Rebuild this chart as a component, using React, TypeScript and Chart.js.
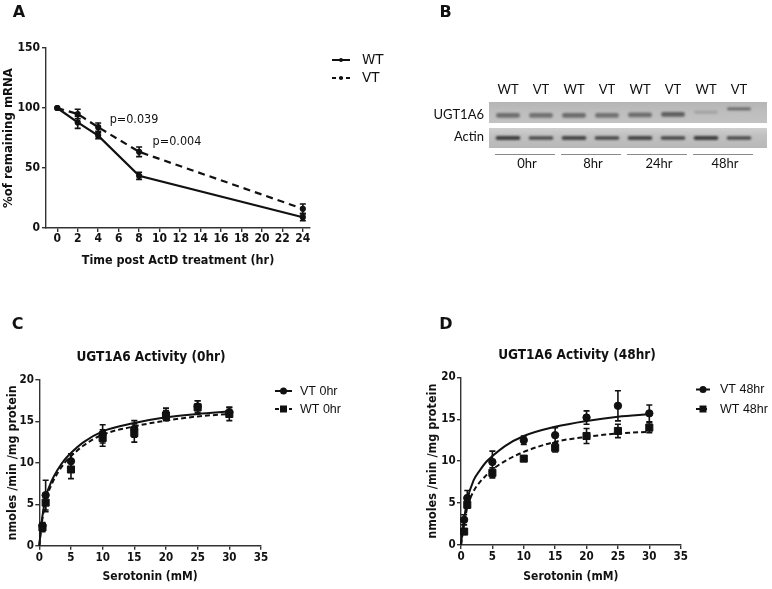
import React, { useEffect, useRef } from "react";
import { Chart, registerables } from "chart.js";

Chart.register(...registerables);

const COND = '"DejaVu Sans Condensed", "DejaVu Sans", sans-serif';
const PLAIN = '"DejaVu Sans", sans-serif';
const NARROW = '"Liberation Sans Narrow", "Liberation Sans", sans-serif';
const HUMAN = 'Lato, "Open Sans", sans-serif';
const LETTER = '"DejaVu Sans", sans-serif';
const INK = "#111";
const AXIS = "#333";

// ---------------- Panel A: mRNA decay ----------------
const timeHours = [0, 2, 4, 8, 24];
const timeTicks = [0, 2, 4, 6, 8, 10, 12, 14, 16, 18, 20, 22, 24];
const remainingTicks = [0, 50, 100, 150];
const wtRemaining = [100, 88, 77, 43.5, 9];
const wtRemainingErr = [0, 5, 2.5, 3, 3];
const vtRemaining = [100, 95, 84, 63.5, 16];
const vtRemainingErr = [0, 4, 3.5, 4, 4];
const pValueLabels = ["p=0.039", "p=0.004"];
const pValueAnchorX = [7.5, 11.7];
const pValueAnchorY = [90, 71.5];

// ---------------- Panel B: western blot ----------------
const laneLabels = ["WT", "VT", "WT", "VT", "WT", "VT", "WT", "VT"];
const timeLabels = ["0hr", "8hr", "24hr", "48hr"];
const rowLabels = ["UGT1A6", "Actin"];
const ugtBands: [number, number][] = [
  [6.6, 7.6], [6.6, 7.6], [6.6, 7.6], [6.6, 7.6],
  [6.7, 7.7], [6.8, 7.8], [7.5, 8.1], [8.2, 8.8],
];
const ugtIntensity = [0.5, 0.48, 0.52, 0.48, 0.5, 0.6, 0.18, 0.55];
const actinBands: [number, number][] = [
  [1.75, 2.6], [1.8, 2.55], [1.75, 2.6], [1.8, 2.55],
  [1.75, 2.6], [1.8, 2.55], [1.75, 2.6], [1.8, 2.55],
];
const actinIntensity = [0.8, 0.72, 0.75, 0.75, 0.75, 0.75, 0.8, 0.72];

// ---------------- Panels C & D: kinetics ----------------
const concPoints = [0.5, 1, 5, 10, 15, 20, 25, 30];
const concTicks = [0, 5, 10, 15, 20, 25, 30, 35];
const activityTicks = [0, 5, 10, 15, 20];
const vt0Mean = [2.4, 6.1, 10.2, 13.5, 14.1, 15.9, 16.8, 16.1];
const vt0Err = [0.4, 1.8, 0.9, 1.1, 1.0, 0.7, 0.7, 0.6];
const wt0Mean = [2.2, 5.2, 9.2, 13.0, 13.6, 15.7, 16.7, 15.9];
const wt0Err = [0.5, 1.1, 1.1, 1.0, 1.1, 0.6, 0.8, 0.8];
const vt48Mean = [3.0, 5.6, 9.9, 12.5, 13.1, 15.2, 16.6, 15.7];
const vt48Err = [0.6, 0.9, 1.3, 0.5, 0.9, 0.8, 1.8, 1.0];
const wt48Mean = [1.6, 4.8, 8.6, 10.3, 11.6, 13.0, 13.6, 14.0];
const wt48Err = [0.3, 0.4, 0.6, 0.3, 0.5, 0.9, 0.8, 0.6];

// fitted curves
const curveConc = [0, 0.25, 0.5, 1, 2, 3, 4, 5, 7, 10, 15, 20, 25, 30];
const vt0Fit = [0, 2.0, 3.6, 5.8, 7.9, 9.3, 10.4, 11.2, 12.5, 13.8, 14.8, 15.5, 15.9, 16.2];
const wt0Fit = [0, 1.8, 3.3, 5.4, 7.5, 8.9, 10.0, 10.8, 12.1, 13.4, 14.4, 15.1, 15.6, 15.9];
const vt48Fit = [0, 1.7, 3.1, 5.4, 7.7, 8.9, 9.9, 10.6, 11.8, 13.0, 14.1, 14.8, 15.3, 15.6];
const wt48Fit = [0, 1.3, 2.4, 4.5, 6.4, 7.5, 8.3, 9.0, 10.0, 11.1, 12.3, 12.9, 13.3, 13.5];

type Pt = { x: number; y: number };
const toPts = (xs: number[], ys: number[]): Pt[] => xs.map((x, i) => ({ x, y: ys[i] }));

const errorBarPlugin = {
  id: "errorBars",
  afterDatasetsDraw(chart: any) {
    const { ctx } = chart;
    const xs = chart.scales.x;
    const ys = chart.scales.y;
    chart.data.datasets.forEach((ds: any) => {
      if (!ds.errorBars) return;
      ctx.save();
      ctx.strokeStyle = INK;
      ctx.lineWidth = 1.6;
      ctx.setLineDash([]);
      ds.data.forEach((p: Pt, i: number) => {
        const e = ds.errorBars[i];
        if (!e) return;
        const px = xs.getPixelForValue(p.x);
        const t = ys.getPixelForValue(p.y + e);
        const b = ys.getPixelForValue(p.y - e);
        const c = 3;
        ctx.beginPath();
        ctx.moveTo(px, t);
        ctx.lineTo(px, b);
        ctx.moveTo(px - c, t);
        ctx.lineTo(px + c, t);
        ctx.moveTo(px - c, b);
        ctx.lineTo(px + c, b);
        ctx.stroke();
      });
      ctx.restore();
    });
  },
};

function drawMarker(ctx: CanvasRenderingContext2D, kind: string, x: number, y: number) {
  ctx.beginPath();
  if (kind === "circle") {
    ctx.arc(x, y, 3.5, 0, Math.PI * 2);
  } else if (kind === "rect") {
    ctx.rect(x - 3.5, y - 3.5, 7, 7);
  } else {
    ctx.arc(x, y, 2, 0, Math.PI * 2);
  }
  ctx.fill();
}

function drawLegend(
  ctx: CanvasRenderingContext2D,
  items: { label: string; dash: number[]; marker: string }[],
  x1: number,
  x2: number,
  textX: number,
  ys: number[],
  font: string
) {
  ctx.save();
  ctx.strokeStyle = INK;
  ctx.fillStyle = INK;
  ctx.lineWidth = 2;
  ctx.font = font;
  ctx.textAlign = "left";
  ctx.textBaseline = "middle";
  items.forEach((it, i) => {
    const y = ys[i];
    ctx.setLineDash(it.dash);
    ctx.beginPath();
    ctx.moveTo(x1, y);
    ctx.lineTo(x2, y);
    ctx.stroke();
    ctx.setLineDash([]);
    drawMarker(ctx, it.marker, (x1 + x2) / 2, y);
    ctx.fillText(it.label, textX, y + 0.5);
  });
  ctx.restore();
}

function axisBase(
  min: number,
  max: number,
  ticks: number[],
  tickSize: number,
  tickPad: number,
  title: string,
  titleSize: number,
  fit: (s: any) => void
) {
  return {
    type: "linear",
    min,
    max,
    afterBuildTicks: (s: any) => {
      s.ticks = ticks.map((v) => ({ value: v }));
    },
    afterFit: fit,
    border: { display: true, color: AXIS, width: 1.4 },
    grid: { drawOnChartArea: false, drawTicks: true, tickLength: 4, color: AXIS, lineWidth: 1.4 },
    ticks: {
      font: { family: COND, size: tickSize, weight: "bold" },
      color: INK,
      padding: tickPad,
      autoSkip: false,
      maxRotation: 0,
    },
    title: {
      display: true,
      text: title,
      font: { family: COND, size: titleSize, weight: "bold" },
      color: INK,
      padding: 0,
    },
  };
}

const baseOptions = {
  animation: false,
  responsive: false,
  devicePixelRatio: 1,
  events: [],
};

function configA() {
  const textPlugin = {
    id: "panelAText",
    afterDraw(chart: any) {
      const { ctx } = chart;
      const xs = chart.scales.x;
      const ys = chart.scales.y;
      ctx.save();
      ctx.fillStyle = INK;
      ctx.textBaseline = "middle";
      ctx.textAlign = "center";
      ctx.font = `bold 16px ${LETTER}`;
      ctx.fillText("A", 19, 13);
      ctx.font = `12.5px ${COND}`;
      pValueLabels.forEach((t, i) =>
        ctx.fillText(t, xs.getPixelForValue(pValueAnchorX[i]), ys.getPixelForValue(pValueAnchorY[i]))
      );
      ctx.restore();
      drawLegend(
        ctx,
        [
          { label: "WT", dash: [], marker: "dot" },
          { label: "VT", dash: [4, 3], marker: "dot" },
        ],
        332,
        350,
        362,
        [60, 78],
        `13.5px ${PLAIN}`
      );
    },
  };
  return {
    type: "scatter",
    data: {
      datasets: [
        {
          label: "WT",
          data: toPts(timeHours, wtRemaining),
          errorBars: wtRemainingErr,
          showLine: true,
          borderColor: INK,
          backgroundColor: INK,
          borderWidth: 2.2,
          pointRadius: 2,
          clip: false,
        },
        {
          label: "VT",
          data: toPts(timeHours, vtRemaining),
          errorBars: vtRemainingErr,
          showLine: true,
          borderColor: INK,
          backgroundColor: INK,
          borderWidth: 2.2,
          borderDash: [7, 5],
          pointRadius: 2,
          clip: false,
        },
      ],
    },
    options: {
      ...baseOptions,
      layout: { padding: { left: 1, top: 48, right: 80, bottom: 0 } },
      plugins: { legend: { display: false }, tooltip: { enabled: false } },
      scales: {
        x: axisBase(-1.1, 24.7, timeTicks, 12, 0, "Time post ActD treatment (hr)", 12.5, (s: any) => {
          s.height = 40;
        }),
        y: axisBase(0, 150, remainingTicks, 12, 2, "%of remaining mRNA", 13, (s: any) => {
          s.width = 45;
        }),
      },
    },
    plugins: [errorBarPlugin, textPlugin],
  };
}

function configB() {
  const blotPlugin = {
    id: "blot",
    beforeDatasetsDraw(chart: any) {
      const { ctx } = chart;
      const ys = chart.scales.y;
      const x0 = 99;
      const x1 = 377;
      const uTop = ys.getPixelForValue(10);
      const uBot = ys.getPixelForValue(5.43);
      const lTop = ys.getPixelForValue(4.35);
      const lBot = ys.getPixelForValue(0);
      ctx.save();
      let g = ctx.createLinearGradient(0, uTop, 0, uBot);
      g.addColorStop(0, "#b5b5b5");
      g.addColorStop(0.5, "#bebebe");
      g.addColorStop(1, "#c2c2c2");
      ctx.fillStyle = g;
      ctx.fillRect(x0, uTop, x1 - x0, uBot - uTop);
      g = ctx.createLinearGradient(0, lTop, 0, lBot);
      g.addColorStop(0, "#cfcfcf");
      g.addColorStop(0.4, "#c0c0c0");
      g.addColorStop(1, "#b8b8b8");
      ctx.fillStyle = g;
      ctx.fillRect(x0, lTop, x1 - x0, lBot - lTop);
      ctx.restore();
      ctx.filter = "blur(1.2px)";
    },
    afterDatasetsDraw(chart: any) {
      chart.ctx.filter = "none";
    },
    afterDraw(chart: any) {
      const { ctx } = chart;
      const xs = chart.scales.x;
      ctx.save();
      ctx.fillStyle = INK;
      ctx.textBaseline = "middle";
      ctx.textAlign = "center";
      ctx.font = `bold 16px ${LETTER}`;
      ctx.fillText("B", 55.5, 12.5);
      ctx.font = `13px ${HUMAN}`;
      ctx.textAlign = "right";
      ctx.fillText(rowLabels[0], 94, 115);
      ctx.fillText(rowLabels[1], 94, 137);
      ctx.textAlign = "center";
      ctx.strokeStyle = "#8a8a8a";
      ctx.lineWidth = 1;
      timeLabels.forEach((t, gI) => {
        const a = xs.getPixelForValue(gI * 2) - 13;
        const b = xs.getPixelForValue(gI * 2 + 1) + 14;
        ctx.beginPath();
        ctx.moveTo(a, 154.5);
        ctx.lineTo(b, 154.5);
        ctx.stroke();
        ctx.fillText(t, (a + b) / 2 + 2, 164);
      });
      ctx.restore();
    },
  };
  const bandColor = (a: number) => `rgba(30,30,30,${a})`;
  return {
    type: "bar",
    data: {
      labels: laneLabels,
      datasets: [
        {
          label: rowLabels[0],
          data: ugtBands,
          backgroundColor: ugtIntensity.map(bandColor),
          barPercentage: 0.72,
          categoryPercentage: 1,
          grouped: false,
          borderSkipped: false,
          borderRadius: 2,
        },
        {
          label: rowLabels[1],
          data: actinBands,
          backgroundColor: actinIntensity.map(bandColor),
          barPercentage: 0.75,
          categoryPercentage: 1,
          grouped: false,
          borderSkipped: false,
          borderRadius: 2,
        },
      ],
    },
    options: {
      ...baseOptions,
      layout: { padding: { left: 101.5, right: 16.5, top: 0, bottom: 32 } },
      plugins: { legend: { display: false }, tooltip: { enabled: false } },
      scales: {
        x: {
          type: "category",
          position: "top",
          offset: true,
          grid: { display: false, drawTicks: false },
          border: { display: false },
          ticks: {
            font: { family: HUMAN, size: 13 },
            color: INK,
            padding: 4.5,
            maxRotation: 0,
            autoSkip: false,
          },
          afterFit: (s: any) => {
            s.height = 102;
          },
        },
        y: { display: false, min: 0, max: 10 },
      },
    },
    plugins: [blotPlugin],
  };
}

function configKinetics(p: {
  letter: string;
  letterX: number;
  title: string;
  titleX: number;
  titleY: number;
  vtLabel: string;
  wtLabel: string;
  vtMean: number[];
  vtErr: number[];
  wtMean: number[];
  wtErr: number[];
  vtFit: number[];
  wtFit: number[];
  padding: { left: number; top: number; right: number; bottom: number };
  yWidth: number;
  xHeight: number;
  legendX1: number;
  legendX2: number;
  legendTextX: number;
  legendY: number[];
}) {
  const textPlugin = {
    id: "kinText",
    afterDraw(chart: any) {
      const { ctx } = chart;
      ctx.save();
      ctx.fillStyle = INK;
      ctx.textBaseline = "middle";
      ctx.textAlign = "center";
      ctx.font = `bold 16px ${LETTER}`;
      ctx.fillText(p.letter, p.letterX, 25);
      ctx.font = `bold 13.5px ${COND}`;
      ctx.fillText(p.title, p.titleX, p.titleY);
      ctx.restore();
      drawLegend(
        ctx,
        [
          { label: p.vtLabel, dash: [], marker: "circle" },
          { label: p.wtLabel, dash: [4, 3], marker: "rect" },
        ],
        p.legendX1,
        p.legendX2,
        p.legendTextX,
        p.legendY,
        `12.5px ${NARROW}`
      );
    },
  };
  return {
    type: "scatter",
    data: {
      datasets: [
        {
          label: p.vtLabel + " fit",
          data: toPts(curveConc, p.vtFit),
          showLine: true,
          borderColor: INK,
          borderWidth: 2,
          pointRadius: 0,
          cubicInterpolationMode: "monotone",
          clip: false,
        },
        {
          label: p.wtLabel + " fit",
          data: toPts(curveConc, p.wtFit),
          showLine: true,
          borderColor: INK,
          borderWidth: 2,
          borderDash: [5, 3],
          pointRadius: 0,
          cubicInterpolationMode: "monotone",
          clip: false,
        },
        {
          label: p.wtLabel,
          data: toPts(concPoints, p.wtMean),
          errorBars: p.wtErr,
          pointStyle: "rect",
          pointRadius: 5,
          backgroundColor: INK,
          borderColor: INK,
          clip: false,
        },
        {
          label: p.vtLabel,
          data: toPts(concPoints, p.vtMean),
          errorBars: p.vtErr,
          pointStyle: "circle",
          pointRadius: 3.7,
          backgroundColor: INK,
          borderColor: INK,
          clip: false,
        },
      ],
    },
    options: {
      ...baseOptions,
      layout: { padding: p.padding },
      plugins: { legend: { display: false }, tooltip: { enabled: false } },
      scales: {
        x: axisBase(0, 35, concTicks, 11.5, 1.4, "Serotonin (mM)", 12, (s: any) => {
          s.height = p.xHeight;
        }),
        y: axisBase(0, 20, activityTicks, 11.5, 1.3, "nmoles /min /mg protein", 12.5, (s: any) => {
          s.width = p.yWidth;
        }),
      },
    },
    plugins: [errorBarPlugin, textPlugin],
  };
}

function ChartPanel(props: { left: number; top: number; width: number; height: number; build: () => any }) {
  const ref = useRef<HTMLCanvasElement>(null);
  useEffect(() => {
    const chart = new Chart(ref.current as HTMLCanvasElement, props.build());
    return () => chart.destroy();
  }, []);
  return (
    <div style={{ position: "absolute", left: props.left, top: props.top, width: props.width, height: props.height }}>
      <canvas
        ref={ref}
        width={props.width}
        height={props.height}
        style={{ width: props.width, height: props.height, display: "block" }}
      />
    </div>
  );
}

export default function App() {
  return (
    <div style={{ position: "absolute", left: 0, top: 0, width: 772, height: 589, background: "#fff", overflow: "hidden" }}>
      <ChartPanel left={0} top={0} width={390} height={268} build={configA} />
      <ChartPanel left={390} top={0} width={382} height={180} build={configB} />
      <ChartPanel
        left={0}
        top={300}
        width={390}
        height={289}
        build={() =>
          configKinetics({
            letter: "C",
            letterX: 17.5,
            title: "UGT1A6 Activity (0hr)",
            titleX: 151,
            titleY: 57,
            vtLabel: "VT 0hr",
            wtLabel: "WT 0hr",
            vtMean: vt0Mean,
            vtErr: vt0Err,
            wtMean: wt0Mean,
            wtErr: wt0Err,
            vtFit: vt0Fit,
            wtFit: wt0Fit,
            padding: { left: 5.5, top: 80, right: 129, bottom: 4.8 },
            yWidth: 33.8,
            xHeight: 38.5,
            legendX1: 275,
            legendX2: 292,
            legendTextX: 300,
            legendY: [91, 109],
          })
        }
      />
      <ChartPanel
        left={390}
        top={300}
        width={382}
        height={289}
        build={() =>
          configKinetics({
            letter: "D",
            letterX: 56,
            title: "UGT1A6 Activity (48hr)",
            titleX: 187,
            titleY: 55,
            vtLabel: "VT 48hr",
            wtLabel: "WT 48hr",
            vtMean: vt48Mean,
            vtErr: vt48Err,
            wtMean: wt48Mean,
            wtErr: wt48Err,
            vtFit: vt48Fit,
            wtFit: wt48Fit,
            padding: { left: 35, top: 77.3, right: 91.3, bottom: 4.8 },
            yWidth: 36,
            xHeight: 39.2,
            legendX1: 306,
            legendX2: 320,
            legendTextX: 330,
            legendY: [89.5, 109],
          })
        }
      />
    </div>
  );
}
